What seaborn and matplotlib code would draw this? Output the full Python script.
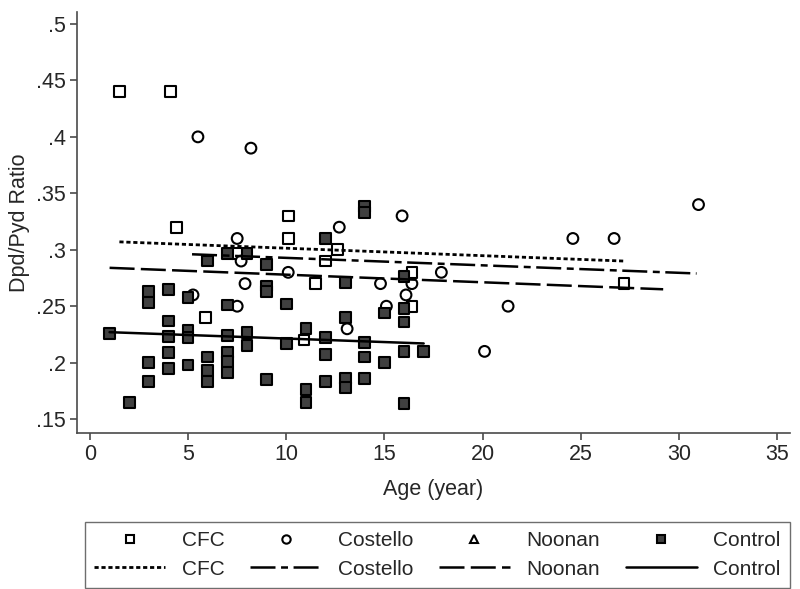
import matplotlib
matplotlib.use("Agg")
import matplotlib.pyplot as plt
from matplotlib.lines import Line2D
import pandas as pd
import seaborn as sns

# CFC (open squares)
cfc_age = [1.5, 4.1, 4.4, 10.1, 10.1, 12.6, 12.0, 7.5, 5.9, 11.5, 16.4, 16.4, 10.9, 27.2]
cfc_ratio = [0.44, 0.44, 0.32, 0.33, 0.31, 0.30, 0.29, 0.297, 0.24, 0.27, 0.28, 0.25, 0.22, 0.27]

# Costello (open circles)
cos_age = [5.5, 8.2, 7.5, 7.7, 7.9, 5.25, 7.5, 10.1, 12.7, 15.9, 14.8, 16.4, 17.9,
           16.1, 15.1, 13.1, 20.1, 21.3, 24.6, 26.7, 31.0]
cos_ratio = [0.40, 0.39, 0.31, 0.29, 0.27, 0.26, 0.25, 0.28, 0.32, 0.33, 0.27, 0.27, 0.28,
             0.26, 0.25, 0.23, 0.21, 0.25, 0.31, 0.31, 0.34]

# Control (filled squares)
ctl_age = [1, 2,
           3, 3, 3, 3,
           4, 4, 4, 4, 4,
           5, 5, 5, 5,
           6, 6, 6, 6,
           7, 7, 7, 7, 7, 7,
           8, 8, 8,
           9, 9, 9, 9,
           10, 10,
           11, 11, 11,
           12, 12, 12, 12,
           13, 13, 13, 13,
           14, 14, 14, 14, 14,
           15, 15,
           16, 16, 16, 16, 16,
           17]
ctl_ratio = [0.226, 0.165,
             0.263, 0.253, 0.200, 0.183,
             0.265, 0.237, 0.223, 0.209, 0.195,
             0.258, 0.229, 0.222, 0.198,
             0.290, 0.205, 0.193, 0.183,
             0.297, 0.251, 0.224, 0.209, 0.201, 0.191,
             0.297, 0.227, 0.215,
             0.287, 0.268, 0.263, 0.185,
             0.252, 0.217,
             0.230, 0.176, 0.165,
             0.310, 0.222, 0.207, 0.183,
             0.271, 0.240, 0.186, 0.178,
             0.338, 0.333, 0.218, 0.205, 0.186,
             0.244, 0.200,
             0.276, 0.248, 0.236, 0.210, 0.164,
             0.210]

# fitted lines (start / end)
fit_groups = ["CFC", "Costello", "Noonan", "Control"]
fit_age = [[1.5, 27.2], [5.2, 30.9], [1.0, 29.2], [1.0, 17.0]]
fit_ratio = [[0.307, 0.290], [0.296, 0.279], [0.284, 0.265], [0.227, 0.217]]

x_ticks = [0, 5, 10, 15, 20, 25, 30, 35]
y_ticks = [0.15, 0.2, 0.25, 0.3, 0.35, 0.4, 0.45, 0.5]
y_labels = [".15", ".2", ".25", ".3", ".35", ".4", ".45", ".5"]

sns.set_style("ticks")
plt.rcParams["font.family"] = ["Liberation Sans", "DejaVu Sans"]
plt.rcParams["font.size"] = 15.5
plt.rcParams["lines.scale_dashes"] = False

styles = {
    "CFC": (0, (3, 2)),
    "Costello": (0, (18, 4, 5, 4)),
    "Noonan": (0, (18, 4.5)),
    "Control": "-",
}

df = pd.DataFrame({
    "age": cfc_age + cos_age + ctl_age,
    "ratio": cfc_ratio + cos_ratio + ctl_ratio,
    "group": ["CFC"] * len(cfc_age) + ["Costello"] * len(cos_age) + ["Control"] * len(ctl_age),
})

fig = plt.figure(figsize=(8, 5.89), dpi=100)
ax = fig.add_axes([77 / 800, 1 - 433 / 589, 713 / 800, 421 / 589])

sns.scatterplot(data=df, x="age", y="ratio", hue="group", style="group",
                markers={"CFC": "s", "Costello": "o", "Control": "s"},
                palette={"CFC": "white", "Costello": "white", "Control": "#404040"},
                edgecolor="black", linewidth=1.5, s=60, legend=False, ax=ax, zorder=2)

for g, xa, ya in zip(fit_groups, fit_age, fit_ratio):
    lw = 2.0 if g == "CFC" else 1.8
    sns.lineplot(x=xa, y=ya, color="black", linewidth=lw, linestyle=styles[g],
                 ax=ax, zorder=3)

ax.set_xlim(-0.66, 35.66)
ax.set_ylim(0.1377, 0.5106)
ax.set_xticks(x_ticks)
ax.set_yticks(y_ticks)
ax.set_yticklabels(y_labels)
ax.set_xlabel("Age (year)", labelpad=10)
ax.set_ylabel("Dpd/Pyd Ratio", labelpad=4)
sns.despine(ax=ax)
for sp in ["left", "bottom"]:
    ax.spines[sp].set_color("#4a4a4a")
    ax.spines[sp].set_linewidth(1.2)
ax.tick_params(length=5, width=1.2, color="#4a4a4a", pad=3)

handles = [
    Line2D([], [], marker="s", ls="none", mfc="white", mec="black", ms=6, mew=1.5),
    Line2D([], [], color="black", lw=2.0, ls=styles["CFC"]),
    Line2D([], [], marker="o", ls="none", mfc="white", mec="black", ms=6, mew=1.5),
    Line2D([], [], color="black", lw=1.8, ls=styles["Costello"]),
    Line2D([], [], marker="^", ls="none", mfc="white", mec="black", ms=6, mew=1.5),
    Line2D([], [], color="black", lw=1.8, ls=styles["Noonan"]),
    Line2D([], [], marker="s", ls="none", mfc="#404040", mec="black", ms=6, mew=1.5),
    Line2D([], [], color="black", lw=1.8, ls=styles["Control"]),
]
labels = ["CFC", "CFC", "Costello", "Costello", "Noonan", "Noonan", "Control", "Control"]
leg = fig.legend(handles, labels, ncol=4, loc="upper left", mode="expand",
                 bbox_to_anchor=(85 / 800, 1 - 586 / 589, 705 / 800, 64 / 589),
                 borderaxespad=0, fontsize=15,
                 handlelength=3.4, handletextpad=0.8, columnspacing=1.0,
                 labelspacing=0.45, borderpad=0.45, fancybox=False, frameon=True)
leg.get_frame().set_edgecolor("#4a4a4a")
leg.get_frame().set_linewidth(1.0)

fig.savefig("out.png", dpi=100)
